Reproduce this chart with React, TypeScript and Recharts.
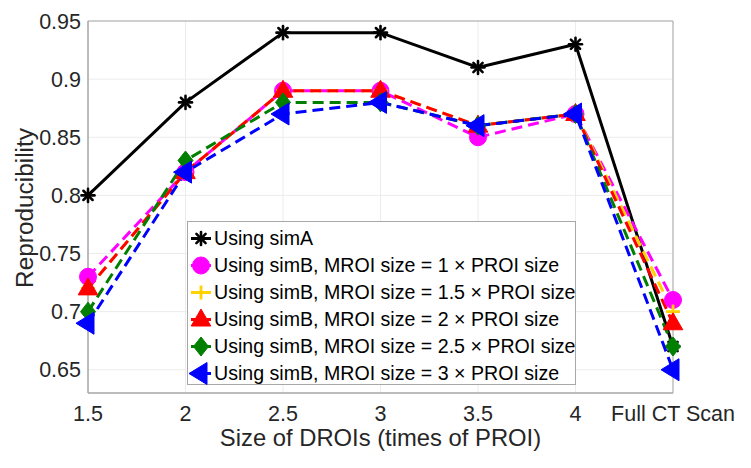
import React from 'react';
import { LineChart, Line, XAxis, YAxis, CartesianGrid, Legend, ReferenceArea, Label } from 'recharts';

const categories = ['1.5', '2', '2.5', '3', '3.5', '4', 'Full CT Scan'];
const simA = [0.8, 0.88, 0.94, 0.94, 0.91, 0.93, 0.67];
const simB1 = [0.73, 0.82, 0.89, 0.89, 0.85, 0.87, 0.71];
const simB15 = [0.72, 0.82, 0.89, 0.89, 0.86, 0.87, 0.7];
const simB2 = [0.72, 0.82, 0.89, 0.89, 0.86, 0.87, 0.69];
const simB25 = [0.7, 0.83, 0.88, 0.88, 0.86, 0.87, 0.67];
const simB3 = [0.69, 0.82, 0.87, 0.88, 0.86, 0.87, 0.65];
const yTicks = [0.65, 0.7, 0.75, 0.8, 0.85, 0.9, 0.95];
const xTicks = categories.map((_, i) => i);

const data = categories.map((c, i) => ({
  x: i,
  label: c,
  simA: simA[i],
  simB1: simB1[i],
  simB15: simB15[i],
  simB2: simB2[i],
  simB25: simB25[i],
  simB3: simB3[i],
}));

type Shape = 'asterisk' | 'circle' | 'plus' | 'triangle' | 'diamond' | 'left';

const series: { key: string; name: string; color: string; shape: Shape; dashed: boolean }[] = [
  { key: 'simA', name: 'Using simA', color: '#000000', shape: 'asterisk', dashed: false },
  { key: 'simB1', name: 'Using simB, MROI size = 1 \u00d7 PROI size', color: '#ff00ff', shape: 'circle', dashed: true },
  { key: 'simB15', name: 'Using simB, MROI size = 1.5 \u00d7 PROI size', color: '#ffd200', shape: 'plus', dashed: true },
  { key: 'simB2', name: 'Using simB, MROI size = 2 \u00d7 PROI size', color: '#ff0000', shape: 'triangle', dashed: true },
  { key: 'simB25', name: 'Using simB, MROI size = 2.5 \u00d7 PROI size', color: '#007f00', shape: 'diamond', dashed: true },
  { key: 'simB3', name: 'Using simB, MROI size = 3 \u00d7 PROI size', color: '#0000ff', shape: 'left', dashed: true },
];

const FONT = '"Liberation Sans", Arial, Helvetica, sans-serif';
const TEXT = '#262626';

function Marker({ cx, cy, shape, color }: { cx: number; cy: number; shape: Shape; color: string }) {
  if (cx == null || cy == null || isNaN(cx) || isNaN(cy)) return null;
  switch (shape) {
    case 'asterisk': {
      const r = 6.5;
      const d = r * 0.7071;
      return (
        <g stroke={color} strokeWidth={2.6} strokeLinecap="round">
          <line x1={cx - r} y1={cy} x2={cx + r} y2={cy} />
          <line x1={cx} y1={cy - r} x2={cx} y2={cy + r} />
          <line x1={cx - d} y1={cy - d} x2={cx + d} y2={cy + d} />
          <line x1={cx - d} y1={cy + d} x2={cx + d} y2={cy - d} />
        </g>
      );
    }
    case 'circle':
      return <circle cx={cx} cy={cy} r={8.5} fill={color} stroke={color} />;
    case 'plus':
      return (
        <g stroke={color} strokeWidth={2.8}>
          <line x1={cx - 7} y1={cy} x2={cx + 7} y2={cy} />
          <line x1={cx} y1={cy - 7} x2={cx} y2={cy + 7} />
        </g>
      );
    case 'triangle':
      return (
        <polygon
          points={`${cx},${cy - 10.5} ${cx + 9.8},${cy + 6.5} ${cx - 9.8},${cy + 6.5}`}
          fill={color}
          stroke={color}
        />
      );
    case 'diamond':
      return (
        <polygon
          points={`${cx},${cy - 9.5} ${cx + 7.5},${cy} ${cx},${cy + 9.5} ${cx - 7.5},${cy}`}
          fill={color}
          stroke={color}
        />
      );
    case 'left':
      return (
        <polygon
          points={`${cx - 12},${cy} ${cx + 6},${cy - 11} ${cx + 6},${cy + 11}`}
          fill={color}
          stroke={color}
        />
      );
  }
  return null;
}

function LegendBox() {
  return (
    <div
      style={{
        width: 389,
        height: 164,
        boxSizing: 'border-box',
        border: '1px solid #a8a8a8',
        background: '#ffffff',
        paddingTop: 3,
        fontFamily: FONT,
        fontSize: 19.6,
        color: '#000',
      }}
    >
      {series.map((s) => (
        <div key={s.key} style={{ height: 27, display: 'flex', alignItems: 'center', whiteSpace: 'nowrap' }}>
          <svg width={26} height={27} style={{ flex: 'none' }}>
            <line x1={3} y1={13.5} x2={23} y2={13.5} stroke={s.color} strokeWidth={3} />
            <Marker cx={13} cy={13.5} shape={s.shape} color={s.color} />
          </svg>
          <span>{s.name}</span>
        </div>
      ))}
    </div>
  );
}

export default function App() {
  return (
    <div style={{ position: 'absolute', left: 0, top: 0, width: 751, height: 468, background: '#fff' }}>
      <LineChart width={751} height={468} data={data} margin={{ top: 21, right: 78, left: 0, bottom: 0 }}>
        <CartesianGrid stroke="#ececec" strokeWidth={1} />
        <ReferenceArea x1={0} x2={6} y1={0.63} y2={0.95} fill="none" stroke="#a8a8a8" strokeWidth={1} ifOverflow="visible" />
        <XAxis
          dataKey="x"
          type="number"
          domain={[0, 6]}
          ticks={xTicks}
          tickFormatter={(v: number) => categories[v]}
          height={75}
          axisLine={{ stroke: '#a8a8a8' }}
          tickLine={false}
          tickSize={8}
          tickMargin={5}
          tick={{ fill: TEXT, fontSize: 21.5, fontFamily: FONT }}
          interval={0}
        >
          <Label
            value="Size of DROIs (times of PROI)"
            position="insideBottom"
            offset={22}
            style={{ fill: TEXT, fontSize: 23.8, fontFamily: FONT }}
          />
        </XAxis>
        <YAxis
          type="number"
          domain={[0.63, 0.95]}
          ticks={yTicks}
          width={88}
          axisLine={{ stroke: '#a8a8a8' }}
          tickLine={false}
          tickSize={4}
          tickMargin={3}
          tick={{ fill: TEXT, fontSize: 21.5, fontFamily: FONT }}
          tickFormatter={(v: number) => String(Math.round(v * 100) / 100)}
          interval={0}
        >
          <Label
            content={() => (
              <text
                x={24}
                y={208}
                transform="rotate(-90 24 208)"
                textAnchor="middle"
                dominantBaseline="central"
                fill={TEXT}
                fontSize={24.4}
                fontFamily={FONT}
              >
                Reproducibility
              </text>
            )}
          />
        </YAxis>
        {series.map((s) => (
          <Line
            key={s.key}
            dataKey={s.key}
            name={s.name}
            stroke={s.color}
            strokeWidth={3}
            strokeDasharray={s.dashed ? '11 6' : undefined}
            isAnimationActive={false}
            dot={(p: any) => <Marker key={`${s.key}-${p.index}`} cx={p.cx} cy={p.cy} shape={s.shape} color={s.color} />}
            activeDot={false}
          />
        ))}
        <Legend
          layout="vertical"
          align="center"
          verticalAlign="middle"
          content={() => <LegendBox />}
          wrapperStyle={{ position: 'absolute', left: 187, top: 221, width: 389, height: 164 }}
        />
      </LineChart>
    </div>
  );
}
